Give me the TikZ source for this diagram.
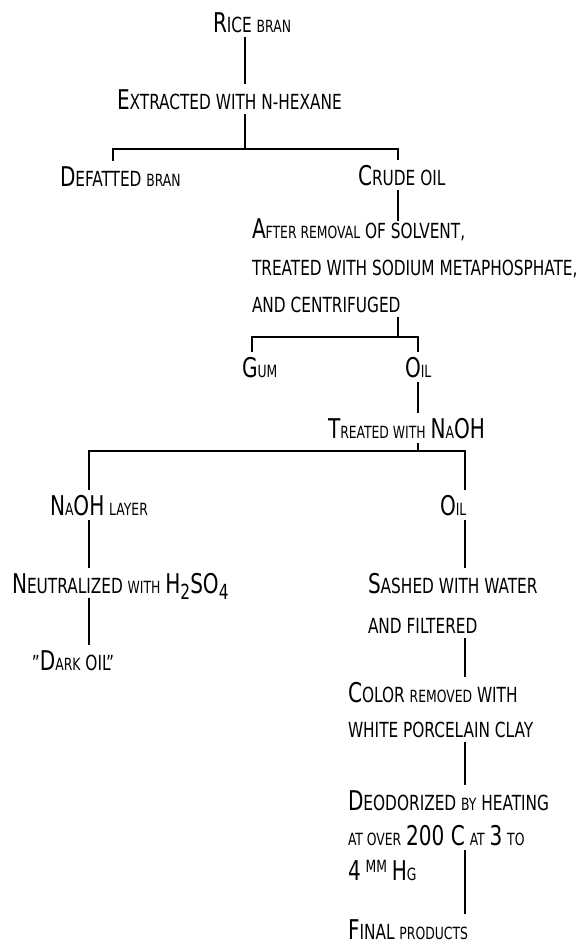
\documentclass[tikz,border=0pt]{standalone}
\usepackage{fontspec}
\newfontfamily\plotfont[FakeStretch=0.82]{DejaVu Sans Condensed}
\usepackage{tikz}
\newcommand{\bigsc}[1]{{\fontsize{13.6}{14}\selectfont #1}}
\newcommand{\lowsc}[1]{{\fontsize{8.4}{9}\selectfont #1}}
\tikzset{
  stagetext/.style={anchor=base west,inner sep=0pt,outer sep=0pt,
    outer ysep=2.5pt,text depth=0pt,font=\plotfont\fontsize{10.4}{11}\selectfont},
  link/.style={line width=1pt}
}

\begin{document}
\begin{tikzpicture}[x=0.5pt,y=-0.5pt]
  \useasboundingbox (0,0) rectangle (587,948);
  % stages
  \node[stagetext] (rice) at (213,32) {\bigsc{R}ICE \lowsc{BRAN}};
  \node[stagetext] (extr) at (117,109) {\bigsc{E}XTRACTED WITH N-HEXANE};
  \node[stagetext] (defat) at (60,186) {\bigsc{D}EFATTED \lowsc{BRAN}};
  \node[stagetext] (crude) at (358,185) {\bigsc{C}RUDE OIL};
  \node[stagetext] (after) at (252,238) {\bigsc{A}\lowsc{FTER REMOVAL} OF SOLVENT,};
  \node[stagetext] (treat) at (252,275) {TREATED WITH SODIUM METAPHOSPHATE,};
  \node[stagetext] (centr) at (252,312) {AND CENTRIFUGED};
  \node[stagetext] (gum) at (242,377) {\bigsc{G}\lowsc{UM}};
  \node[stagetext] (oilA) at (405,377) {\bigsc{O}\lowsc{IL}};
  \node[stagetext] (naoh) at (328,438) {\bigsc{T}\lowsc{REATED WITH} \bigsc{N}\lowsc{A}\bigsc{OH}};
  \node[stagetext] (layer) at (50,515) {\bigsc{N}\lowsc{A}\bigsc{OH} \lowsc{LAYER}};
  \node[stagetext] (oilB) at (440,515) {\bigsc{O}\lowsc{IL}};
  \node[stagetext] (neut) at (12,593) {\bigsc{N}EUTRALIZED \lowsc{WITH} \bigsc{H}\raisebox{-3pt}{2}\bigsc{SO}\raisebox{-3pt}{4}};
  \node[stagetext] (dark) at (32,670) {”\bigsc{D}\lowsc{ARK} OIL”};
  \node[stagetext] (sash) at (368,593) {\bigsc{S}ASHED WITH WATER};
  \node[stagetext] (filt) at (368,633) {AND FILTERED};
  \node[stagetext] (color) at (348,702) {\bigsc{C}OLOR \lowsc{REMOVED} WITH};
  \node[stagetext] (white) at (348,737) {WHITE PORCELAIN CLAY};
  \node[stagetext] (deod) at (348,810) {\bigsc{D}EODORIZED \lowsc{BY} HEATING};
  \node[stagetext] (over) at (348,845) {\lowsc{AT OVER} \bigsc{200 C} \lowsc{AT} \bigsc{3} \lowsc{TO}};
  \node[stagetext] (hg) at (348,880) {\bigsc{4} \raisebox{4pt}{\lowsc{MM}} \bigsc{H}\lowsc{G}};
  \node[stagetext] (final) at (348,939) {\bigsc{F}INAL \lowsc{PRODUCTS}};
  % branch points
  \coordinate (split1) at (245,149);
  \coordinate (split1l) at (113,149);
  \coordinate (split1r) at (398,149);
  \coordinate (split2) at (398,337);
  \coordinate (split2l) at (252,337);
  \coordinate (split2r) at (418,337);
  \coordinate (split3) at (418,451);
  \coordinate (split3l) at (89,451);
  \coordinate (split3r) at (465,451);
  % connectors
  \draw[link] (rice.south -| split1) -- (extr.north -| split1);
  \draw[link] (extr.south -| split1) -- (split1);
  \draw[link] (defat.north -| split1l) |- (split1r) -- (crude.north -| split1r);
  \draw[link,shorten >=-4pt] (crude.south -| split1r) -- (after.north -| split1r);
  \draw[link] (centr.south -| split2) -- (split2);
  \draw[link] (gum.north -| split2l) |- (split2r) -- (oilA.north -| split2r);
  \draw[link] (oilA.south -| split2r) -- (naoh.north -| split2r);
  \draw[link] (naoh.south -| split3) -- (split3);
  \draw[link] (layer.north -| split3l) |- (split3r) -- (oilB.north -| split3r);
  \draw[link] (layer.south -| split3l) -- (neut.north -| split3l);
  \draw[link] (neut.south -| split3l) -- (dark.north -| split3l);
  \draw[link] (oilB.south -| split3r) -- (sash.north -| split3r);
  \draw[link] (filt.south -| split3r) -- (color.north -| split3r);
  \draw[link] (white.south -| split3r) -- (deod.north -| split3r);
  \draw[link] (over.south -| split3r) -- (final.north -| split3r);
\end{tikzpicture}
\end{document}
